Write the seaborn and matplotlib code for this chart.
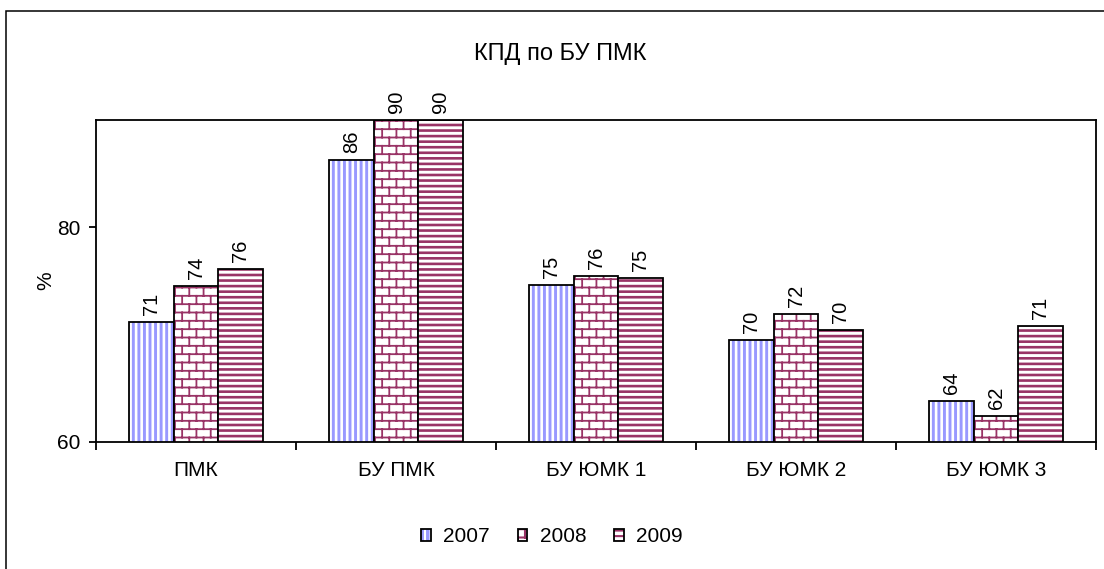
import warnings
import numpy as np
import pandas as pd
import matplotlib
matplotlib.use('Agg')
import matplotlib.pyplot as plt
from matplotlib import hatch as mhatch
from matplotlib.path import Path
from matplotlib.colors import to_rgba
from matplotlib.patches import Rectangle
import seaborn as sns

warnings.filterwarnings('ignore')

# Data
categories = ['ПМК', 'БУ ПМК', 'БУ ЮМК 1', 'БУ ЮМК 2', 'БУ ЮМК 3']
years = ['2007', '2008', '2009']
kpd_2007 = [71.2, 86.3, 74.6, 69.5, 63.8]
kpd_2008 = [74.5, 90.0, 75.5, 71.9, 62.4]
kpd_2009 = [76.1, 90.0, 75.3, 70.4, 70.8]


class BrickHatch(mhatch.HatchPatternBase):
    """Brick wall hatch, switched on by a 'b' in the hatch string."""

    def __init__(self, hatch, density):
        self.rows = 12 if 'b' in hatch else 0
        self.cols = 7
        if self.rows:
            self.num_vertices = (self.rows * (1 + self.cols) + self.cols) * 2
        else:
            self.num_vertices = 0

    def set_vertices_and_codes(self, vertices, codes):
        verts = []
        for r in range(self.rows):
            y0 = (r + 0.5) / self.rows
            y1 = min((r + 1.5) / self.rows, 1.0)
            verts += [(0.0, y0), (1.0, y0)]
            shift = 0.25 + 0.5 * (r % 2)
            for c in range(self.cols):
                x = (c + shift) / self.cols
                verts += [(x, y0), (x, y1)]
        # bottom sliver of the last row wraps round the tile
        shift = 0.25 + 0.5 * ((self.rows - 1) % 2)
        for c in range(self.cols):
            x = (c + shift) / self.cols
            verts += [(x, 0.0), (x, 0.5 / self.rows)]
        vertices[:] = verts
        codes[0::2] = Path.MOVETO
        codes[1::2] = Path.LINETO


mhatch._hatch_types.append(BrickHatch)

sns.set_style('white', rc={'axes.edgecolor': 'black'})
plt.rcParams['font.family'] = ['Liberation Sans', 'DejaVu Sans']
plt.rcParams.update({'text.color': 'black', 'axes.labelcolor': 'black',
                     'xtick.color': 'black', 'ytick.color': 'black',
                     'hatch.linewidth': 1.5})

FS = 15

df = pd.DataFrame({
    'category': categories * 3,
    'year': np.repeat(years, len(categories)),
    'value': kpd_2007 + kpd_2008 + kpd_2009,
})

fig, ax = plt.subplots(figsize=(11.04, 5.69), dpi=100)
fig.subplots_adjust(left=0.087, right=0.9928, top=0.789, bottom=0.2232)

sns.barplot(data=df, x='category', y='value', hue='year', order=categories,
            hue_order=years, width=0.667, palette=['#9999FF', 'white', 'white'],
            edgecolor='black', linewidth=1.3, saturation=1, errorbar=None,
            legend=False, ax=ax)

# facecolor, hatch, hatch colour, hatch width for each year
styles = {
    '2007': ('#9999FF', '|||', 'white', 1.9),
    '2008': ('white', 'b', '#993366', 1.3),
    '2009': ('white', '---', '#993366', 1.9),
}
for container, yr in zip(ax.containers, years):
    fc, h, hc, hlw = styles[yr]
    for p in container:
        p.set_facecolor(fc)
        p.set_edgecolor('black')
        p.set_hatch(h)
        p._hatch_color = to_rgba(hc)
        if hasattr(p, 'set_hatch_linewidth'):
            p.set_hatch_linewidth(hlw)
    labels = ax.bar_label(container, fmt='%.0f', rotation=90, padding=5,
                          fontsize=14.5, color='black')
    for t in labels:
        t.set_annotation_clip(False)

ax.set_ylim(60, 90)
ax.set_xlim(-0.5, len(categories) - 0.5)
ax.set_yticks([60, 80])
ax.set_xlabel('')
ax.set_ylabel('%', fontsize=FS)
ax.yaxis.set_label_coords(-0.041, 0.5)

ax.set_xticks(np.arange(-0.5, len(categories), 1), minor=True)
ax.tick_params(axis='x', which='major', length=0, pad=14, labelsize=FS)
ax.tick_params(axis='x', which='minor', length=6, width=1.3, bottom=True,
               direction='out')
ax.tick_params(axis='y', length=5, width=1.3, left=True, direction='out',
               labelsize=FS, pad=6)
for s in ax.spines.values():
    s.set_visible(True)
    s.set_color('black')
    s.set_linewidth(1.3)

fig.text(0.507, 1 - 60 / 569, 'КПД по БУ ПМК', ha='center', va='baseline',
         fontsize=17)

fig.legend(handles=ax.containers[:3], labels=years, loc='center',
           bbox_to_anchor=(0.5, 1 - 537 / 569), ncol=3, frameon=False,
           handlelength=0.45, handleheight=0.45, handletextpad=0.6,
           columnspacing=1.35, fontsize=FS)

# outer chart frame
fig.patches.append(Rectangle((6 / 1104, -0.05), 1.2, 1 - 11 / 569 + 0.05,
                             transform=fig.transFigure, fill=False,
                             edgecolor='black', linewidth=1.1))

fig.savefig('out.png', dpi=100)
